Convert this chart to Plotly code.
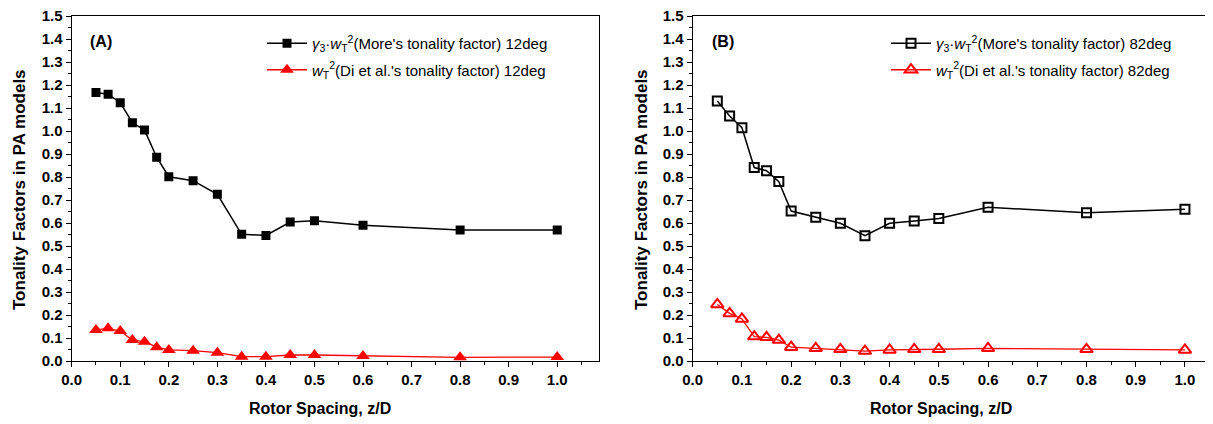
import plotly.graph_objects as go

# ---------------- data ----------------
spacing = [0.05, 0.075, 0.1, 0.125, 0.15, 0.175, 0.2, 0.25, 0.3, 0.35, 0.4, 0.45, 0.5, 0.6, 0.8, 1.0]

more_12 = [1.167, 1.160, 1.123, 1.036, 1.004, 0.886, 0.801, 0.784, 0.725, 0.551, 0.546, 0.604, 0.610, 0.590, 0.570, 0.570]
di_12 = [0.135, 0.142, 0.130, 0.091, 0.084, 0.060, 0.048, 0.045, 0.036, 0.019, 0.019, 0.026, 0.026, 0.022, 0.016, 0.017]

more_82 = [1.130, 1.065, 1.014, 0.841, 0.827, 0.780, 0.652, 0.625, 0.599, 0.545, 0.599, 0.609, 0.620, 0.668, 0.645, 0.660]
di_82 = [0.246, 0.207, 0.183, 0.106, 0.103, 0.091, 0.060, 0.055, 0.051, 0.043, 0.048, 0.051, 0.051, 0.055, 0.051, 0.048]

x_ticks = [0.0, 0.1, 0.2, 0.3, 0.4, 0.5, 0.6, 0.7, 0.8, 0.9, 1.0]
y_ticks = [0.0, 0.1, 0.2, 0.3, 0.4, 0.5, 0.6, 0.7, 0.8, 0.9, 1.0, 1.1, 1.2, 1.3, 1.4, 1.5]

name_more = "<i>γ</i><sub>3</sub>·<i>w</i><sub>T</sub><sup>2</sup>(More's tonality factor) {}"
name_di = "<i>w</i><sub>T</sub><sup>2</sup>(Di et al.'s tonality factor) {}"

# page body has an 8px margin: figure is drawn from (8, 8) in the window
OFF = 8
W, H = 1213 - OFF, 424 - OFF
FONT = "Liberation Sans, Arial, sans-serif"
RED = "#ff0000"

fig = go.Figure()

fig.add_trace(go.Scatter(x=spacing, y=more_12, mode="lines+markers", name=name_more.format("12deg"),
                         line=dict(color="black", width=1.5),
                         marker=dict(symbol="square", size=9, color="black"),
                         xaxis="x", yaxis="y", legend="legend", legendgroup="a1"))
fig.add_trace(go.Scatter(x=spacing, y=di_12, mode="lines+markers", name=name_di.format("12deg"),
                         line=dict(color=RED, width=1.3),
                         marker=dict(symbol="triangle-up", size=12, color=RED),
                         xaxis="x", yaxis="y", legend="legend", legendgroup="a2"))
fig.add_trace(go.Scatter(x=spacing, y=more_82, mode="lines+markers", name=name_more.format("82deg"),
                         line=dict(color="black", width=1.5),
                         marker=dict(symbol="square-open", size=9, color="black", line=dict(width=2)),
                         xaxis="x2", yaxis="y2", legend="legend2", legendgroup="b1"))
fig.add_trace(go.Scatter(x=spacing, y=di_82, mode="lines+markers", name=name_di.format("82deg"),
                         line=dict(color=RED, width=1.3),
                         marker=dict(symbol="triangle-up-open", size=11, color=RED, line=dict(width=2)),
                         xaxis="x2", yaxis="y2", legend="legend2", legendgroup="b2"))

def px(v):
    return (v - OFF) / W

def py(v):
    return 1 - (v - OFF) / H

y_dom = [py(361), py(16)]
tickfont = dict(family=FONT, size=15, color="black", weight="bold")

common_x = dict(tickmode="array", tickvals=x_ticks, ticktext=["<b>%.1f</b>" % t for t in x_ticks],
                ticks="outside", ticklen=5, tickwidth=1.3, tickcolor="black",
                minor=dict(ticks="outside", dtick=0.05, tick0=0, ticklen=3, tickwidth=1.2, tickcolor="black"),
                showline=True, linecolor="black", linewidth=1.3, mirror=True, automargin=False,
                ticklabeloverflow="allow",
                showgrid=False, zeroline=False, tickfont=tickfont, fixedrange=True)
common_y = dict(tickmode="array", tickvals=y_ticks, ticktext=["<b>%.1f</b>" % t for t in y_ticks],
                range=[0, 1.5], ticks="outside", ticklen=5, tickwidth=1.3, tickcolor="black",
                minor=dict(ticks="outside", dtick=0.05, tick0=0, ticklen=3, tickwidth=1.2, tickcolor="black"),
                showline=True, linecolor="black", linewidth=1.3, automargin=False,
                ticklabeloverflow="allow",
                showgrid=False, zeroline=False, tickfont=tickfont, fixedrange=True)

fig.update_layout(
    width=W, height=H,
    margin=dict(l=0, r=0, t=0, b=0, autoexpand=False),
    paper_bgcolor="white", plot_bgcolor="white",
    font=dict(family=FONT, color="black"),
    xaxis=dict(domain=[px(71.7), px(599)], range=[0, 1.086], anchor="y", **common_x),
    yaxis=dict(domain=y_dom, anchor="x", mirror=True, **common_y),
    xaxis2=dict(domain=[px(692.7), 1.0], range=[0, 1.057], anchor="y2", **common_x),
    yaxis2=dict(domain=y_dom, anchor="x2", mirror=False, **common_y),
    legend=dict(x=px(262), y=py(27), xanchor="left", yanchor="top", bgcolor="rgba(0,0,0,0)",
                font=dict(family=FONT, size=15, color="black"), tracegroupgap=4, itemwidth=40),
    legend2=dict(x=px(886), y=py(27), xanchor="left", yanchor="top", bgcolor="rgba(0,0,0,0)",
                 font=dict(family=FONT, size=15, color="black"), tracegroupgap=4, itemwidth=40),
    showlegend=True,
)

annots = [
    dict(text="<b>(A)</b>", x=px(101), y=py(41), size=16),
    dict(text="<b>(B)</b>", x=px(723), y=py(41), size=16),
    dict(text="<b>Rotor Spacing, z/D</b>", x=px(320), y=py(408), size=16),
    dict(text="<b>Rotor Spacing, z/D</b>", x=px(941), y=py(408), size=16),
    dict(text="<b>Tonality Factors in PA models</b>", x=px(19), y=py(190), textangle=-90, size=17),
    dict(text="<b>Tonality Factors in PA models</b>", x=px(641), y=py(190), textangle=-90, size=17),
]
for a in annots:
    size = a.pop("size")
    fig.add_annotation(xref="paper", yref="paper", showarrow=False, xanchor="center", yanchor="middle",
                       font=dict(family=FONT, size=size, color="black"), **a)

fig.write_html("out.html")
